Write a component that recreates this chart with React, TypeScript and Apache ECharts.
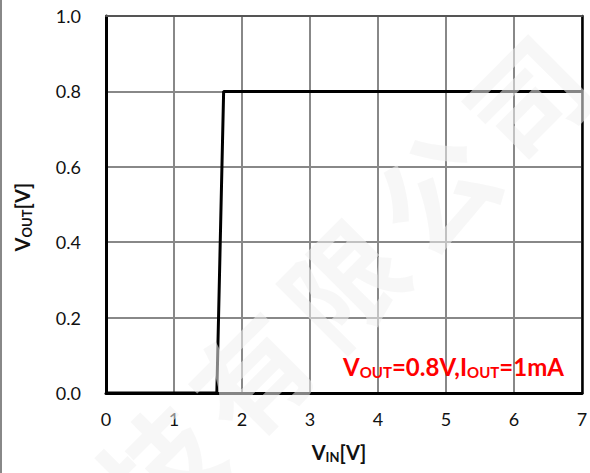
import React, { useEffect, useRef } from "react";
import * as echarts from "echarts";

// VIN sweep points and resulting VOUT
const vin = [0, 1.63, 1.73, 7];
const vout = [0, 0, 0.8, 0.8];

const xTicks = [0, 1, 2, 3, 4, 5, 6, 7];
const yTicks = [0, 0.2, 0.4, 0.6, 0.8, 1.0];

const watermarkChars = ["技", "有", "限", "公", "司"];

const FONT = "Lato, 'Open Sans', sans-serif";

const nameRich = {
  b: { fontSize: 20, fontWeight: "bold", fill: "#111", fontFamily: FONT },
  s: { fontSize: 13, fontWeight: "bold", fill: "#111", fontFamily: FONT, padding: [10, 0, 0, 0] },
};

export default function App() {
  const ref = useRef<HTMLDivElement>(null);

  useEffect(() => {
    document.body.style.margin = "0";
    const chart = echarts.init(ref.current!, null, { renderer: "svg" });

    const wmStartX = 156;
    const wmStartY = 464;
    const wmStep = 92;

    chart.setOption({
      animation: false,
      backgroundColor: "#ffffff",
      grid: { left: 106, right: 8, top: 16, bottom: 80, outerBoundsMode: "none", containLabel: false },
      xAxis: [
        {
          type: "value",
          min: xTicks[0],
          max: xTicks[xTicks.length - 1],
          interval: 1,
          position: "bottom",
          axisLine: { show: true, onZero: false, lineStyle: { color: "#000", width: 3 } },
          axisTick: { show: false },
          axisLabel: { margin: 17, fontSize: 18, color: "#111", fontFamily: FONT },
          splitLine: { show: true, lineStyle: { color: "#888", width: 2 } },
        },
        {
          type: "value",
          min: xTicks[0],
          max: xTicks[xTicks.length - 1],
          interval: 1,
          position: "top",
          axisLine: { show: true, onZero: false, lineStyle: { color: "#555", width: 2 } },
          axisTick: { show: false },
          axisLabel: { show: false },
          splitLine: { show: false },
        },
      ],
      yAxis: [
        {
          type: "value",
          min: yTicks[0],
          max: yTicks[yTicks.length - 1],
          interval: 0.2,
          position: "left",
          axisLine: { show: true, onZero: false, lineStyle: { color: "#000", width: 3 } },
          axisTick: { show: false },
          axisLabel: {
            margin: 25,
            fontSize: 18,
            color: "#111",
            fontFamily: FONT,
            formatter: (v: number) => v.toFixed(1),
          },
          splitLine: { show: true, lineStyle: { color: "#888", width: 2 } },
        },
        {
          type: "value",
          min: yTicks[0],
          max: yTicks[yTicks.length - 1],
          interval: 0.2,
          position: "right",
          axisLine: { show: true, onZero: false, lineStyle: { color: "#000", width: 2.5 } },
          axisTick: { show: false },
          axisLabel: { show: false },
          splitLine: { show: false },
        },
      ],
      series: [
        {
          type: "line",
          data: vin.map((x, i) => [x, vout[i]]),
          showSymbol: false,
          lineStyle: { color: "#000", width: 3 },
          z: 5,
        },
      ],
      graphic: [
        // axis titles
        {
          type: "text",
          x: 339,
          y: 452,
          z: 10,
          style: {
            text: "{b|V}{s|IN}{b|[V]}",
            rich: nameRich,
            align: "center",
            verticalAlign: "middle",
          },
        },
        {
          type: "text",
          x: 22,
          y: 217,
          rotation: Math.PI / 2,
          z: 10,
          style: {
            text: "{b|V}{s|OUT}{b|[V]}",
            rich: nameRich,
            align: "center",
            verticalAlign: "middle",
          },
        },
        // test condition note
        {
          type: "text",
          left: 343,
          top: 354,
          z: 10,
          style: {
            text: "{b|V}{s|OUT}{b|=0.8V,I}{s|OUT}{b|=1mA}",
            rich: {
              b: { fontSize: 24, fontWeight: "bold", fill: "#ff0000", fontFamily: FONT },
              s: { fontSize: 15, fontWeight: "bold", fill: "#ff0000", fontFamily: FONT, padding: [11, 0, 0, 0] },
            },
          },
        },
        {
          type: "line",
          shape: { x1: 1, y1: 0, x2: 1, y2: 473 },
          style: { stroke: "#888", lineWidth: 2 },
        },
        ...watermarkChars.map((ch, i) => ({
          type: "text",
          x: wmStartX + i * wmStep,
          y: wmStartY - i * wmStep,
          rotation: Math.PI / 4,
          z: 100,
          silent: true,
          style: {
            text: ch,
            fontSize: 115,
            fontWeight: "bold",
            fontFamily: "'Noto Sans CJK SC', sans-serif",
            fill: "rgba(240,240,240,0.55)",
            align: "center",
            verticalAlign: "middle",
          },
        })),
      ],
    });

    return () => chart.dispose();
  }, []);

  return <div ref={ref} style={{ width: 590, height: 473 }} />;
}
